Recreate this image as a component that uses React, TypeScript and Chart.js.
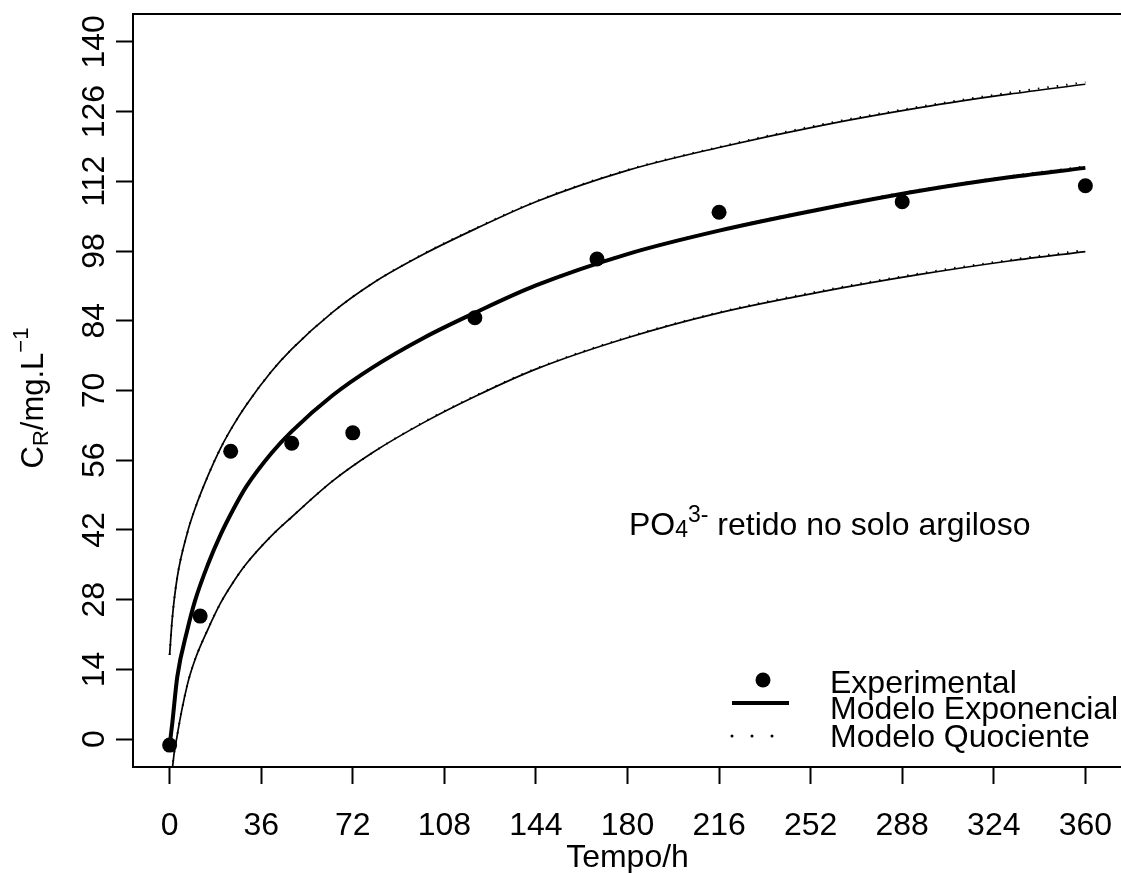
import React, { useEffect, useRef } from "react";
import { Chart, registerables } from "chart.js";

Chart.register(...registerables);

const FONT = '"Liberation Sans", Arial, Helvetica, sans-serif';

// Experimental data (Tempo/h, C_R mg/L)
const timeObs = [0, 12, 24, 48, 72, 120, 168, 216, 288, 360];
const crObs = [-1.2, 24.7, 57.8, 59.4, 61.5, 84.6, 96.4, 105.8, 107.9, 111.1];

// Curve sample times
const tGrid = [0, 1, 3, 7, 10, 15, 20, 25, 30, 40, 48, 64, 80, 100, 120, 144, 180, 216, 256, 295, 330, 360];

// Modelo Exponencial (fit + band)
const expFit = [-1.2, 3, 12.5, 22, 27.8, 35.0, 41.0, 46.1, 50.6, 57.4, 61.8, 69.0, 74.7, 80.6, 85.6, 91.1, 97.4, 102.1, 106.4, 110.1, 112.8, 114.7];
const expUpper = [16.9, 24, 32.5, 41.5, 46.3, 52.8, 58.4, 63, 67, 73.8, 78.3, 85.7, 91.6, 97.4, 102.4, 107.9, 114.2, 118.8, 123.2, 126.8, 129.5, 131.5];
const expLower = [-16, -6.5, 0.8, 11.0, 16, 22, 27.3, 31.5, 35.1, 40.8, 44.6, 51.8, 57.6, 63.6, 68.8, 74.3, 80.6, 85.6, 89.8, 93.3, 96.0, 97.9];

// Modelo Quociente (fit + band)
const quoFit = [-1.2, 3, 12.5, 22, 27.9, 35.1, 41.1, 46.2, 50.7, 57.5, 61.9, 69.1, 74.8, 80.7, 85.7, 91.2, 97.5, 102.2, 106.6, 110.3, 113.0, 115.0];
const quoUpper = [16.9, 24, 32.5, 41.5, 46.3, 52.8, 58.4, 63, 67, 73.8, 78.3, 85.7, 91.6, 97.5, 102.5, 108.0, 114.3, 118.9, 123.4, 127.0, 129.8, 131.9];
const quoLower = [-16, -6.5, 0.8, 11.0, 16, 22, 27.3, 31.5, 35.1, 40.8, 44.6, 51.8, 57.6, 63.7, 68.9, 74.4, 80.7, 85.7, 90.0, 93.5, 96.2, 98.2];

const xTicks = [0, 36, 72, 108, 144, 180, 216, 252, 288, 324, 360];
const yTicks = [0, 14, 28, 42, 56, 70, 84, 98, 112, 126, 140];

const legendLabels = ["Experimental", "Modelo Exponencial", "Modelo Quociente"];

type Seg = { text: string; size: number; dy: number };

function drawRich(ctx: CanvasRenderingContext2D, segs: Seg[], x: number, y: number, align: "left" | "center") {
  const widths = segs.map((s) => {
    ctx.font = `${s.size}px ${FONT}`;
    return ctx.measureText(s.text).width;
  });
  const total = widths.reduce((a, b) => a + b, 0);
  let cx = align === "center" ? x - total / 2 : x;
  segs.forEach((s, i) => {
    ctx.font = `${s.size}px ${FONT}`;
    ctx.fillText(s.text, cx, y + s.dy);
    cx += widths[i];
  });
}

const decorPlugin = {
  id: "decor",
  afterDraw(chart: any) {
    const ctx: CanvasRenderingContext2D = chart.ctx;
    const a = chart.chartArea;
    ctx.save();
    // plot box: left, top, bottom (the right side falls off the page)
    ctx.strokeStyle = "#000";
    ctx.lineWidth = 2;
    ctx.beginPath();
    ctx.moveTo(a.right + 4, a.top);
    ctx.lineTo(a.left, a.top);
    ctx.lineTo(a.left, a.bottom);
    ctx.lineTo(a.right + 4, a.bottom);
    ctx.stroke();

    ctx.fillStyle = "#000";
    ctx.textAlign = "left";
    ctx.textBaseline = "alphabetic";

    // annotation
    drawRich(
      ctx,
      [
        { text: "PO", size: 32, dy: 0 },
        { text: "4", size: 23, dy: 2 },
        { text: "3-", size: 23, dy: -13 },
        { text: " retido no solo argiloso", size: 32, dy: 0 },
      ],
      629,
      535,
      "left"
    );

    // y-axis title
    ctx.save();
    ctx.translate(43, 398);
    ctx.rotate(-Math.PI / 2);
    drawRich(
      ctx,
      [
        { text: "C", size: 31, dy: 0 },
        { text: "R", size: 22, dy: 5 },
        { text: "/mg.L", size: 31, dy: 0 },
        { text: "\u22121", size: 22, dy: -15 },
      ],
      0,
      0,
      "center"
    );
    ctx.restore();

    // legend
    ctx.beginPath();
    ctx.arc(763, 680, 7.5, 0, Math.PI * 2);
    ctx.fill();
    ctx.lineWidth = 4;
    ctx.beginPath();
    ctx.moveTo(732, 703);
    ctx.lineTo(789, 703);
    ctx.stroke();
    [732, 752, 772].forEach((x) => {
      ctx.beginPath();
      ctx.arc(x, 736, 1.5, 0, Math.PI * 2);
      ctx.fill();
    });
    ctx.font = `32px ${FONT}`;
    const baselines = [693, 719, 747];
    legendLabels.forEach((l, i) => ctx.fillText(l, 830, baselines[i]));
    ctx.restore();
  },
};

function pts(xs: number[], ys: number[]) {
  return xs.map((x, i) => ({ x, y: ys[i] }));
}

const CANVAS_W = 1130;

export default function App() {
  const ref = useRef<HTMLCanvasElement | null>(null);
  useEffect(() => {
    if (!ref.current) return;
    Chart.defaults.font.family = FONT;
    Chart.defaults.color = "#000";
    const thin = (d: number[]) => ({
      data: pts(tGrid, d),
      borderColor: "#000",
      borderWidth: 1.7,
      pointRadius: 0,
      cubicInterpolationMode: "monotone" as const,
      fill: false,
    });
    const dotted = (d: number[]) => ({
      data: pts(tGrid, d),
      borderColor: "#000",
      borderWidth: 2,
      borderDash: [1.5, 8],
      pointRadius: 0,
      cubicInterpolationMode: "monotone" as const,
      fill: false,
    });
    const chart = new Chart(ref.current, {
      type: "line",
      data: {
        datasets: [
          {
            type: "scatter",
            label: "Experimental",
            data: pts(timeObs, crObs),
            pointRadius: 7.5,
            pointBackgroundColor: "#000",
            pointBorderWidth: 0,
            showLine: false,
          } as any,
          { label: "Modelo Quociente", ...dotted(quoFit) },
          { label: "Quociente sup", ...dotted(quoUpper) },
          { label: "Quociente inf", ...dotted(quoLower) },
          { label: "Modelo Exponencial", ...thin(expFit), borderWidth: 4 },
          { label: "Exponencial sup", ...thin(expUpper) },
          { label: "Exponencial inf", ...thin(expLower) },
        ],
      },
      options: {
        animation: false,
        responsive: false,
        layout: { padding: { top: 14, right: CANVAS_W - 1122, left: 0, bottom: 0 } },
        plugins: { legend: { display: false }, tooltip: { enabled: false } },
        scales: {
          x: {
            type: "linear",
            min: -14.4,
            max: 374.4,
            afterBuildTicks: (s: any) => {
              s.ticks = xTicks.map((v) => ({ value: v }));
            },
            afterFit: (s: any) => {
              s.height = 106;
              s.paddingLeft = 0;
              s.paddingRight = 0;
            },
            grid: { display: true, drawOnChartArea: false, drawTicks: true, tickLength: 17, tickWidth: 2, tickColor: "#000", color: "#000" },
            border: { display: false },
            ticks: { color: "#000", font: { size: 32 }, padding: 23, maxRotation: 0, autoSkip: false },
            title: { display: true, text: "Tempo/h", color: "#000", font: { size: 32 }, padding: { top: 0, bottom: -4 } },
          },
          y: {
            type: "linear",
            min: -5.6,
            max: 145.6,
            afterBuildTicks: (s: any) => {
              s.ticks = yTicks.map((v) => ({ value: v }));
            },
            afterFit: (s: any) => {
              s.width = 133;
              s.paddingTop = 0;
              s.paddingBottom = 0;
            },
            grid: { display: true, drawOnChartArea: false, drawTicks: true, tickLength: 17, tickWidth: 2, tickColor: "#000", color: "#000" },
            border: { display: false },
            ticks: {
              color: "#000",
              font: { size: 32 },
              padding: -6,
              minRotation: 90,
              maxRotation: 90,
              crossAlign: "center",
              autoSkip: false,
            },
          },
        },
      } as any,
      plugins: [decorPlugin],
    });
    return () => chart.destroy();
  }, []);
  return (
    <div style={{ position: "absolute", left: 0, top: 0, width: 1121, height: 873, overflow: "hidden", background: "#fff" }}>
      <canvas ref={ref} width={CANVAS_W} height={873} style={{ display: "block" }} />
    </div>
  );
}
